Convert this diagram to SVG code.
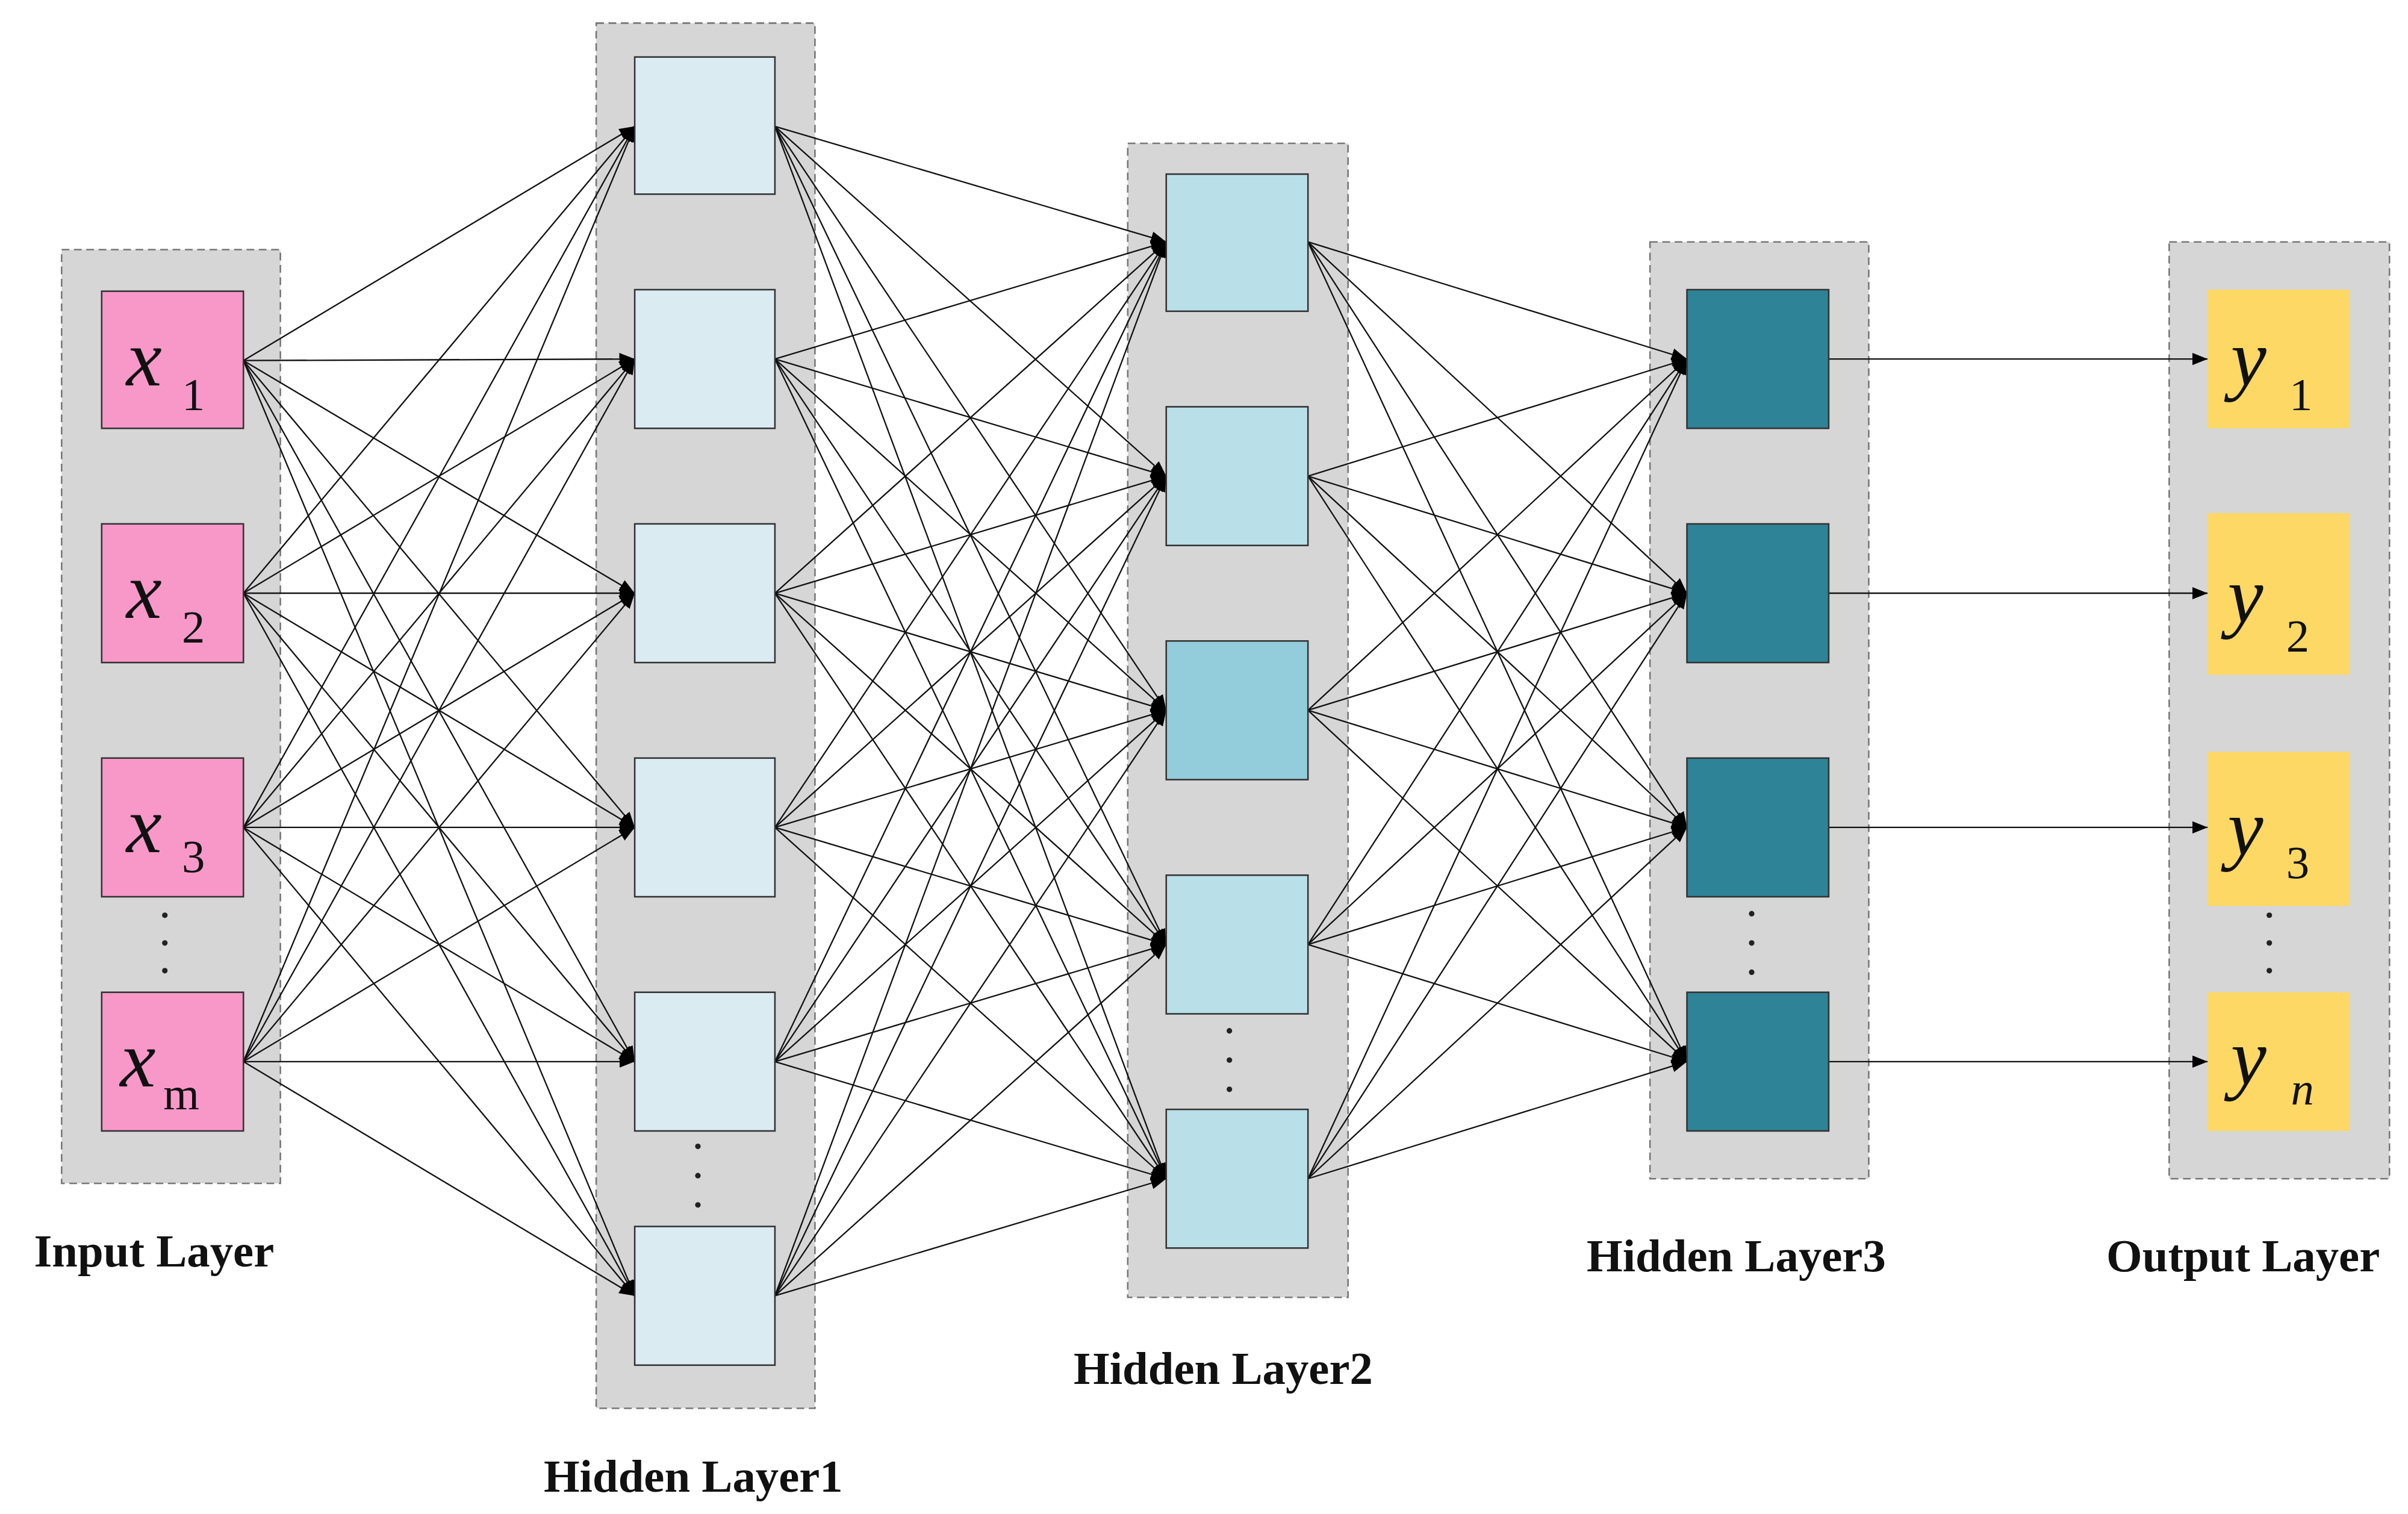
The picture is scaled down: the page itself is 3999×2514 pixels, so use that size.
<svg xmlns="http://www.w3.org/2000/svg" width="3999" height="2514" viewBox="0 0 3999 2514">
<style>
.ct{fill:#d6d6d6;stroke:#777;stroke-width:1;stroke-dasharray:5,3}
.bx{stroke:#333;stroke-width:1}
.c line{stroke:#111;stroke-width:0.9;marker-end:url(#ah)}
.lb{font-family:"Liberation Serif",serif;font-weight:bold;font-size:30px;fill:#111;text-anchor:middle}
.v{font-family:"Liberation Serif",serif;font-style:italic;font-size:52px;fill:#111}
.s{font-family:"Liberation Serif",serif;font-size:30px;fill:#111}
.dot{fill:#222}
</style>
<defs>
<marker id="ah" viewBox="0 0 10 8" refX="10" refY="4" markerWidth="10" markerHeight="8" markerUnits="userSpaceOnUse" orient="auto"><path d="M0,0L10,4L0,8z" fill="#000"/></marker>
</defs>
<rect width="3999" height="2514" fill="#fff"/>
<g transform="scale(2.5585)">
<g id="containers">
<rect class="ct" x="40" y="162" width="142" height="606"/>
<rect class="ct" x="387" y="15" width="142" height="899"/>
<rect class="ct" x="732" y="93" width="143" height="749"/>
<rect class="ct" x="1071" y="157" width="142" height="608"/>
<rect class="ct" x="1408" y="157" width="143" height="608"/>
</g>
<g class="c" id="connectors">
<line x1="158" y1="234" x2="412" y2="82"/><line x1="158" y1="234" x2="412" y2="233"/><line x1="158" y1="234" x2="412" y2="385"/><line x1="158" y1="234" x2="412" y2="537"/><line x1="158" y1="234" x2="412" y2="689"/><line x1="158" y1="234" x2="412" y2="841"/>
<line x1="158" y1="385" x2="412" y2="82"/><line x1="158" y1="385" x2="412" y2="233"/><line x1="158" y1="385" x2="412" y2="385"/><line x1="158" y1="385" x2="412" y2="537"/><line x1="158" y1="385" x2="412" y2="689"/><line x1="158" y1="385" x2="412" y2="841"/>
<line x1="158" y1="537" x2="412" y2="82"/><line x1="158" y1="537" x2="412" y2="233"/><line x1="158" y1="537" x2="412" y2="385"/><line x1="158" y1="537" x2="412" y2="537"/><line x1="158" y1="537" x2="412" y2="689"/><line x1="158" y1="537" x2="412" y2="841"/>
<line x1="158" y1="689" x2="412" y2="82"/><line x1="158" y1="689" x2="412" y2="233"/><line x1="158" y1="689" x2="412" y2="385"/><line x1="158" y1="689" x2="412" y2="537"/><line x1="158" y1="689" x2="412" y2="689"/><line x1="158" y1="689" x2="412" y2="841"/>
<line x1="503" y1="82" x2="757" y2="157"/><line x1="503" y1="82" x2="757" y2="309"/><line x1="503" y1="82" x2="757" y2="461"/><line x1="503" y1="82" x2="757" y2="613"/><line x1="503" y1="82" x2="757" y2="765"/>
<line x1="503" y1="233" x2="757" y2="157"/><line x1="503" y1="233" x2="757" y2="309"/><line x1="503" y1="233" x2="757" y2="461"/><line x1="503" y1="233" x2="757" y2="613"/><line x1="503" y1="233" x2="757" y2="765"/>
<line x1="503" y1="385" x2="757" y2="157"/><line x1="503" y1="385" x2="757" y2="309"/><line x1="503" y1="385" x2="757" y2="461"/><line x1="503" y1="385" x2="757" y2="613"/><line x1="503" y1="385" x2="757" y2="765"/>
<line x1="503" y1="537" x2="757" y2="157"/><line x1="503" y1="537" x2="757" y2="309"/><line x1="503" y1="537" x2="757" y2="461"/><line x1="503" y1="537" x2="757" y2="613"/><line x1="503" y1="537" x2="757" y2="765"/>
<line x1="503" y1="689" x2="757" y2="157"/><line x1="503" y1="689" x2="757" y2="309"/><line x1="503" y1="689" x2="757" y2="461"/><line x1="503" y1="689" x2="757" y2="613"/><line x1="503" y1="689" x2="757" y2="765"/>
<line x1="503" y1="841" x2="757" y2="157"/><line x1="503" y1="841" x2="757" y2="309"/><line x1="503" y1="841" x2="757" y2="461"/><line x1="503" y1="841" x2="757" y2="613"/><line x1="503" y1="841" x2="757" y2="765"/>
<line x1="849" y1="157" x2="1095" y2="233"/><line x1="849" y1="157" x2="1095" y2="385"/><line x1="849" y1="157" x2="1095" y2="537"/><line x1="849" y1="157" x2="1095" y2="689"/>
<line x1="849" y1="309" x2="1095" y2="233"/><line x1="849" y1="309" x2="1095" y2="385"/><line x1="849" y1="309" x2="1095" y2="537"/><line x1="849" y1="309" x2="1095" y2="689"/>
<line x1="849" y1="461" x2="1095" y2="233"/><line x1="849" y1="461" x2="1095" y2="385"/><line x1="849" y1="461" x2="1095" y2="537"/><line x1="849" y1="461" x2="1095" y2="689"/>
<line x1="849" y1="613" x2="1095" y2="233"/><line x1="849" y1="613" x2="1095" y2="385"/><line x1="849" y1="613" x2="1095" y2="537"/><line x1="849" y1="613" x2="1095" y2="689"/>
<line x1="849" y1="765" x2="1095" y2="233"/><line x1="849" y1="765" x2="1095" y2="385"/><line x1="849" y1="765" x2="1095" y2="537"/><line x1="849" y1="765" x2="1095" y2="689"/>
<line x1="1187" y1="233" x2="1433" y2="233"/><line x1="1187" y1="385" x2="1433" y2="385"/><line x1="1187" y1="537" x2="1433" y2="537"/><line x1="1187" y1="689" x2="1433" y2="689"/>
</g>
<g id="input">
<g id="x1"><rect class="bx" x="66" y="189" width="92" height="89" fill="#f898c9" stroke="#8a4a6a"/><text class="v" x="82" y="250">x</text><text class="s" x="118" y="266">1</text></g>
<g id="x2"><rect class="bx" x="66" y="340" width="92" height="90" fill="#f898c9" stroke="#8a4a6a"/><text class="v" x="82" y="401">x</text><text class="s" x="118" y="417">2</text></g>
<g id="x3"><rect class="bx" x="66" y="492" width="92" height="90" fill="#f898c9" stroke="#8a4a6a"/><text class="v" x="82" y="553">x</text><text class="s" x="118" y="566">3</text></g>
<g id="xm"><rect class="bx" x="66" y="644" width="92" height="90" fill="#f898c9" stroke="#8a4a6a"/><text class="v" x="78" y="705">x</text><text class="s" x="106" y="720">m</text></g>
<circle class="dot" cx="107" cy="594" r="1.8"/><circle class="dot" cx="107" cy="612" r="1.8"/><circle class="dot" cx="107" cy="630" r="1.8"/>
</g>
<g id="hidden1">
<rect class="bx" x="412" y="37" width="91" height="89" fill="#daebf2"/>
<rect class="bx" x="412" y="188" width="91" height="90" fill="#daebf2"/>
<rect class="bx" x="412" y="340" width="91" height="90" fill="#daebf2"/>
<rect class="bx" x="412" y="492" width="91" height="90" fill="#daebf2"/>
<rect class="bx" x="412" y="644" width="91" height="90" fill="#daebf2"/>
<rect class="bx" x="412" y="796" width="91" height="90" fill="#daebf2"/>
<circle class="dot" cx="453" cy="744" r="1.8"/><circle class="dot" cx="453" cy="763" r="1.8"/><circle class="dot" cx="453" cy="782" r="1.8"/>
</g>
<g id="hidden2">
<rect class="bx" x="757" y="113" width="92" height="89" fill="#b9dfe9"/>
<rect class="bx" x="757" y="264" width="92" height="90" fill="#b9dfe9"/>
<rect class="bx" x="757" y="416" width="92" height="90" fill="#93ccdb"/>
<rect class="bx" x="757" y="568" width="92" height="90" fill="#b9dfe9"/>
<rect class="bx" x="757" y="720" width="92" height="90" fill="#b9dfe9"/>
<circle class="dot" cx="798" cy="669" r="1.8"/><circle class="dot" cx="798" cy="688" r="1.8"/><circle class="dot" cx="798" cy="707" r="1.8"/>
</g>
<g id="hidden3">
<rect class="bx" x="1095" y="188" width="92" height="90" fill="#2e8397" stroke="#111"/>
<rect class="bx" x="1095" y="340" width="92" height="90" fill="#2e8397" stroke="#111"/>
<rect class="bx" x="1095" y="492" width="92" height="90" fill="#2e8397" stroke="#111"/>
<rect class="bx" x="1095" y="644" width="92" height="90" fill="#2e8397" stroke="#111"/>
<circle class="dot" cx="1137" cy="593" r="1.8"/><circle class="dot" cx="1137" cy="612" r="1.8"/><circle class="dot" cx="1137" cy="631" r="1.8"/>
</g>
<g id="output">
<g id="y1"><rect x="1433" y="188" width="92" height="90" fill="#fdd865"/><text class="v" x="1448" y="250">y</text><text class="s" x="1486" y="266">1</text></g>
<g id="y2"><rect x="1433" y="333" width="92" height="105" fill="#fdd865"/><text class="v" x="1446" y="404">y</text><text class="s" x="1484" y="423">2</text></g>
<g id="y3"><rect x="1433" y="488" width="92" height="100" fill="#fdd865"/><text class="v" x="1446" y="555">y</text><text class="s" x="1484" y="570">3</text></g>
<g id="yn"><rect x="1433" y="644" width="92" height="90" fill="#fdd865"/><text class="v" x="1448" y="704">y</text><text class="s" x="1487" y="717" font-style="italic">n</text></g>
<circle class="dot" cx="1473" cy="594" r="1.8"/><circle class="dot" cx="1473" cy="612" r="1.8"/><circle class="dot" cx="1473" cy="630" r="1.8"/>
</g>
<g id="labels">
<text class="lb" x="100" y="822">Input Layer</text>
<text class="lb" x="450" y="968">Hidden Layer1</text>
<text class="lb" x="794" y="898">Hidden Layer2</text>
<text class="lb" x="1127" y="825">Hidden Layer3</text>
<text class="lb" x="1456" y="825">Output Layer</text>
</g>
</g>
</svg>
